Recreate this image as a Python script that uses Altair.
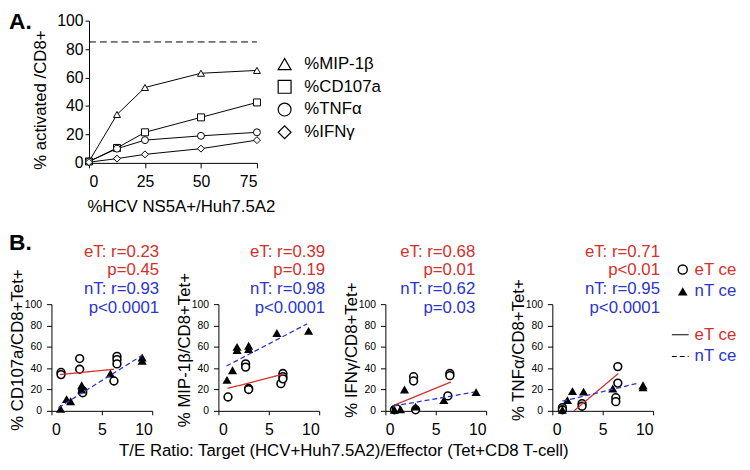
import altair as alt
import pandas as pd

FONT = "Liberation Sans"
RED = "#d4302b"
BLUE = "#2b35cc"

# ---------------- Panel A data ----------------
a_x = [0, 12.5, 25, 50, 75]
a_series = ["%MIP-1β", "%CD107a", "%TNFα", "%IFNγ"]
a_mip1b = [1, 34, 53, 63, 65]
a_cd107a = [1, 10.5, 21.5, 32, 42.5]
a_tnfa = [1, 10, 16, 19, 21.5]
a_ifng = [0.5, 3, 6, 10, 16]
a_shapes = ["triangle-up", "square", "circle", "diamond"]
a_ref_line = [85]
a_x_ticks = [0, 25, 50, 75]
a_y_ticks = [0, 20, 40, 60, 80, 100]

# ---------------- Panel B data ----------------
b_titles = ["% CD107a/CD8+Tet+", "% MIP-1β/CD8+Tet+", "% IFNγ/CD8+Tet+", "% TNFα/CD8+Tet+"]
b_eT_x = [
    [0.95, 0.95, 2.8, 2.8, 3.1, 3.1, 6.5, 6.5, 6.5, 6.2],
    [0.95, 2.7, 2.7, 3.0, 3.0, 6.2, 6.4, 6.4, 6.4],
    [0.9, 1.1, 2.8, 2.8, 3.0, 6.4, 6.4, 6.2],
    [1.0, 1.0, 2.95, 2.95, 6.5, 6.5, 6.3, 6.3],
]
b_eT_y = [
    [36, 34, 49, 39, 19, 17, 51, 48, 44, 28],
    [13, 44, 41, 21, 20, 25.5, 35, 32, 30],
    [1, 2, 32, 28, 1, 35, 33, 14],
    [3, 1, 6.8, 4.3, 41.5, 26, 12.3, 8.6],
]
b_nT_x = [
    [0.9, 1.5, 1.9, 3.0, 3.0, 5.85, 9.0, 9.0],
    [0.85, 1.4, 1.85, 1.85, 3.0, 3.0, 5.8, 8.95],
    [0.9, 1.5, 1.9, 3.0, 5.8, 9.0],
    [1.0, 1.5, 2.0, 3.1, 6.0, 9.0, 9.0],
]
b_nT_y = [
    [2, 11, 9, 24, 20, 35, 50, 47],
    [29, 38, 60, 57, 61, 58, 73, 75],
    [1, 1.5, 20, 4, 10, 17.5],
    [1, 10, 18.5, 18, 21, 24, 22],
]
b_eT_fit_x = [[0.85, 6.2], [0.9, 6.5], [0.8, 6.5], [2.15, 6.55]]
b_eT_fit_y = [[34, 39], [21, 34.5], [5, 27], [0, 35]]
b_nT_fit_x = [[0.7, 9.0], [0.8, 8.8], [0.8, 8.8], [1.0, 8.55]]
b_nT_fit_y = [[3, 52], [42, 81.5], [4.5, 17.5], [9, 26]]
b_eT_stats = [["eT: r=0.23", "p=0.45"], ["eT: r=0.39", "p=0.19"],
              ["eT: r=0.68", "p=0.01"], ["eT: r=0.71", "p<0.01"]]
b_nT_stats = [["nT: r=0.93", "p<0.0001"], ["nT: r=0.98", "p<0.0001"],
              ["nT: r=0.62", "p=0.03"], ["nT: r=0.95", "p<0.0001"]]
b_x_ticks = [0, 5, 10]
b_y_ticks = [0, 20, 40, 60, 80, 100]
b_xtitle = "T/E Ratio: Target (HCV+Huh7.5A2)/Effector (Tet+CD8 T-cell)"

legend_b_labels = ["eT cell", "nT cell", "eT cell", "nT cell"]
legend_b_group = ["eT", "nT", "eT", "nT"]
legend_b_kind = ["symbol", "symbol", "line", "line"]
legend_b_row = [0, 1, 3, 4]

grp_color = alt.Scale(domain=["eT", "nT"], range=[RED, BLUE])

COL_W = 102
# ---------------- Panel A chart ----------------
A_H = 144
A_LEFT, A_RIGHT = 38, 208  # panel A x-range relative to first column
rows = []
for s, vals in zip(a_series, [a_mip1b, a_cd107a, a_tnfa, a_ifng]):
    for xv, yv in zip(a_x, vals):
        rows.append({"x": xv, "y": yv, "series": s})
dfA = pd.DataFrame(rows)
shape_scale = alt.Scale(domain=a_series, range=a_shapes)

xA = alt.X("x:Q", scale=alt.Scale(domain=[0, 75], range=[A_LEFT, A_RIGHT], nice=False, zero=False),
           axis=alt.Axis(values=a_x_ticks, title="%HCV NS5A+/Huh7.5A2", titleFontSize=17,
                         titleX=131, titleY=44, titleBaseline="middle", titleAlign="center",
                         labelFontSize=16, tickSize=5, labelPadding=6))
yA = alt.Y("y:Q", scale=alt.Scale(domain=[0, 100], nice=False),
           axis=alt.Axis(values=a_y_ticks, title="% activated /CD8+", titleFontSize=17,
                         titleX=-49, titleY=80, titleAngle=270, titleBaseline="middle",
                         titleAlign="center", labelFontSize=16, tickSize=4, labelPadding=2,
                         offset=-A_LEFT))

refA = alt.Chart(pd.DataFrame({"x": [a_x[0]], "x2": [a_x[-1]], "y": a_ref_line})).mark_rule(
    color="black", strokeDash=[7, 4], strokeWidth=1).encode(x=xA, x2="x2:Q", y=yA)
linesA = alt.Chart(dfA).mark_line(color="black", strokeWidth=1).encode(
    x=xA, y=yA, detail="series:N")
ptsA = alt.Chart(dfA).mark_point(filled=True, color="white", stroke="black",
                                 strokeWidth=1, opacity=1, size=50).encode(
    x=xA, y=yA, shape=alt.Shape("series:N", scale=shape_scale, legend=None))
labA = alt.Chart(pd.DataFrame({"t": ["A."]})).mark_text(
    align="left", baseline="top", fontSize=23, fontWeight="bold", font=FONT, color="black"
).encode(text="t:N", x=alt.value(-43), y=alt.value(-10))
panelA = alt.layer(refA, linesA, ptsA, labA).properties(width=COL_W, height=A_H)

dfLA = pd.DataFrame({"series": a_series, "row": list(range(len(a_series)))})
yLA = alt.Y("row:Q", scale=alt.Scale(domain=[0, 3], range=[44, 113], zero=False, nice=False), axis=None)
legA_sym = alt.Chart(dfLA).mark_point(filled=True, color="white", stroke="black",
                                      strokeWidth=1.2, size=170, opacity=1).encode(
    x=alt.value(67), y=yLA, shape=alt.Shape("series:N", scale=shape_scale, legend=None))
legA_txt = alt.Chart(dfLA).mark_text(align="left", baseline="middle", fontSize=17,
                                     font=FONT, color="black").encode(
    x=alt.value(87), y=yLA, text="series:N")
legendA = alt.layer(legA_sym, legA_txt).properties(width=COL_W, height=A_H)


def blank(h):
    return alt.Chart(pd.DataFrame({"t": [""]})).mark_text().encode(
        text="t:N", x=alt.value(0), y=alt.value(0)).properties(width=1, height=h)


# ---------------- Panel B charts ----------------
B_H = 108


def panel_b(i, width, ann_dx, first=False):
    xB = alt.X("x:Q", scale=alt.Scale(domain=[0, 10], nice=False, zero=False),
               axis=alt.Axis(values=b_x_ticks, title=None, labelFontSize=16,
                             tickSize=4, labelPadding=7))
    yB = alt.Y("y:Q", scale=alt.Scale(domain=[0, 100], nice=False),
               axis=alt.Axis(values=b_y_ticks, title=b_titles[i], titleFontSize=17,
                             titleX=-34, titleY=46, titleAngle=270, titleBaseline="middle",
                             titleAlign="center", labelFontSize=10.5, tickSize=5,
                             labelPadding=5))
    dfe = pd.DataFrame({"x": b_eT_x[i], "y": b_eT_y[i]})
    dfn = pd.DataFrame({"x": b_nT_x[i], "y": b_nT_y[i]})
    dff = pd.DataFrame({
        "x": b_eT_fit_x[i] + b_nT_fit_x[i],
        "y": b_eT_fit_y[i] + b_nT_fit_y[i],
        "grp": ["eT"] * len(b_eT_fit_x[i]) + ["nT"] * len(b_nT_fit_x[i]),
    })
    circ = alt.Chart(dfe).mark_point(shape="circle", filled=True, color="white",
                                     stroke="black", strokeWidth=1.6, size=62,
                                     opacity=1).encode(x=xB, y=yB)
    tri = alt.Chart(dfn).mark_point(shape="triangle-up", filled=True, color="black",
                                    size=85, opacity=1).encode(x=xB, y=yB)
    fits = alt.Chart(dff).mark_line(strokeWidth=1.3).encode(
        x=xB, y=yB, detail="grp:N",
        color=alt.Color("grp:N", scale=grp_color, legend=None),
        strokeDash=alt.StrokeDash("grp:N", scale=alt.Scale(domain=["eT", "nT"],
                                                           range=[[1, 0], [5, 3]]),
                                  legend=None))
    ann_e = alt.Chart(pd.DataFrame({"t": ["\n".join(b_eT_stats[i])], "grp": ["eT"]})).mark_text(
        align="right", baseline="middle", fontSize=17, font=FONT, lineBreak="\n",
        lineHeight=19).encode(
        text="t:N", x=alt.value(width + ann_dx), y=alt.value(-53),
        color=alt.Color("grp:N", scale=grp_color, legend=None))
    ann_n = alt.Chart(pd.DataFrame({"t": ["\n".join(b_nT_stats[i])], "grp": ["nT"]})).mark_text(
        align="right", baseline="middle", fontSize=17, font=FONT, lineBreak="\n",
        lineHeight=19).encode(
        text="t:N", x=alt.value(width + ann_dx), y=alt.value(-15),
        color=alt.Color("grp:N", scale=grp_color, legend=None))
    layers = [circ, tri, fits, ann_e, ann_n]
    if first:
        lab = alt.Chart(pd.DataFrame({"t": ["B."]})).mark_text(
            align="left", baseline="top", fontSize=23, fontWeight="bold", font=FONT,
            color="black").encode(text="t:N", x=alt.value(-43), y=alt.value(-73))
        xt = alt.Chart(pd.DataFrame({"t": [b_xtitle]})).mark_text(
            align="center", baseline="middle", fontSize=17, font=FONT, color="black"
        ).encode(text="t:N", x=alt.value(296), y=alt.value(149))
        layers += [lab, xt]
    return alt.layer(*layers).properties(width=width, height=B_H)


B1 = panel_b(0, COL_W, 7, first=True)
B2 = panel_b(1, COL_W, 6)
B3 = panel_b(2, COL_W, -11)
B4 = panel_b(3, COL_W, 7)

dfLB = pd.DataFrame({"label": legend_b_labels, "grp": legend_b_group,
                     "kind": legend_b_kind, "row": legend_b_row})
yLB = alt.Y("row:Q", scale=alt.Scale(domain=[0, 4], range=[-35, 53], zero=False, nice=False),
            axis=None)
legB_circ = alt.Chart(dfLB).transform_filter(
    (alt.datum.kind == "symbol") & (alt.datum.grp == "eT")).mark_point(
    shape="circle", filled=True, color="white", stroke="black", strokeWidth=1.4,
    size=85, opacity=1).encode(x=alt.value(-37), y=yLB)
legB_tri = alt.Chart(dfLB).transform_filter(
    (alt.datum.kind == "symbol") & (alt.datum.grp == "nT")).mark_point(
    shape="triangle-up", filled=True, color="black", size=95, opacity=1).encode(
    x=alt.value(-37), y=yLB)
legB_line = alt.Chart(dfLB).transform_filter(alt.datum.kind == "line").mark_rule(
    color="black", strokeWidth=1.2).encode(
    x=alt.value(-48), x2=alt.value(-31), y=yLB,
    strokeDash=alt.StrokeDash("grp:N", scale=alt.Scale(domain=["eT", "nT"],
                                                       range=[[1, 0], [5, 3]]), legend=None))
legB_txt = alt.Chart(dfLB).mark_text(align="left", baseline="middle", fontSize=17, font=FONT,
                                     limit=48, ellipsis=" ").encode(
    x=alt.value(-25), y=yLB, text="label:N",
    color=alt.Color("grp:N", scale=grp_color, legend=None))
legendB = alt.layer(legB_circ, legB_tri, legB_line, legB_txt).properties(width=1, height=B_H)

chart = alt.concat(
    panelA, legendA, blank(A_H), blank(A_H), blank(A_H),
    B1, B2, B3, B4, legendB,
    columns=5, spacing={"row": 143, "column": 67}, bounds="flush", align="each",
).properties(
    padding=0
).configure_view(stroke=None).configure_axis(
    grid=False, domainColor="black", tickColor="black", labelColor="black",
    titleColor="black", labelFont=FONT, titleFont=FONT, titleFontWeight="normal",
    domainWidth=1, tickWidth=1
)

chart.save("out.html", embed_options={"renderer": "svg", "actions": False})
